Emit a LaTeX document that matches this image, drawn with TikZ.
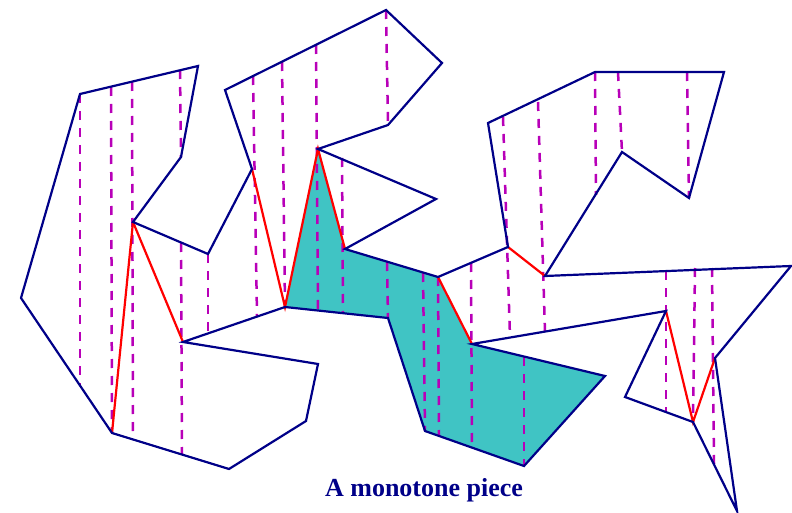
\documentclass[tikz,border=0pt]{standalone}
\usepackage{fontspec}
\setmainfont{Liberation Serif}
\definecolor{navyb}{RGB}{0,0,136}
\definecolor{tealf}{RGB}{64,196,196}
\definecolor{magd}{RGB}{184,0,184}
\tikzset{
  outline/.style={draw=navyb,line width=2.2pt,line join=miter},
  diag/.style={draw=red,line width=2.2pt},
  trap/.style={draw=magd,line width=2.5pt,dash pattern=on 9pt off 8pt},
  piece/.style={fill=tealf,draw=none}
}
\begin{document}
\begin{tikzpicture}[x=1pt,y=-1pt]
\useasboundingbox (0,0) rectangle (792,513);
% vertices
\coordinate (A) at (80,94);  \coordinate (B) at (198,66);  \coordinate (C) at (181,157);
\coordinate (D) at (133,222); \coordinate (E) at (208,254); \coordinate (F) at (252,169);
\coordinate (G) at (225,90);  \coordinate (H) at (386,10);  \coordinate (I) at (442,63);
\coordinate (J) at (388,125); \coordinate (K) at (318,149); \coordinate (L) at (436,199);
\coordinate (M) at (345,249); \coordinate (N) at (438,277); \coordinate (P) at (508,247);
\coordinate (P2) at (488,123); \coordinate (P3) at (595,72); \coordinate (P4) at (724,72);
\coordinate (P5) at (689,198); \coordinate (P6) at (622,152); \coordinate (Q) at (545,276);
\coordinate (Q2) at (791,266); \coordinate (Q3) at (715,358); \coordinate (Q4) at (737,511);
\coordinate (Q5) at (693,422); \coordinate (Q6) at (625,397); \coordinate (Q7) at (666,311);
\coordinate (R) at (472,344); \coordinate (S) at (605,376); \coordinate (T) at (524,466);
\coordinate (U) at (425,431); \coordinate (V) at (388,318); \coordinate (W) at (285,307);
\coordinate (X1) at (183,342); \coordinate (X2) at (318,364); \coordinate (X3) at (306,421);
\coordinate (X4) at (229,469); \coordinate (X5) at (112,433); \coordinate (X6) at (21,298);
% monotone piece
\path[piece] (W) -- (K) -- (M) -- (N) -- (R) -- (S) -- (T) -- (U) -- (V) -- cycle;
% trapezoidation lines
\draw[trap] (80,94) -- (80,385);
\draw[trap] (111,87) -- (112,433);
\draw[trap] (132,82) -- (133,440);
\draw[trap] (180,70) -- (181,157);
\draw[trap] (181,243) -- (182,454);
\draw[trap] (208,254) -- (208,333);
\draw[trap] (253,76) -- (257,316);
\draw[trap] (282,62) -- (285,307);
\draw[trap] (316,45) -- (318,310);
\draw[trap] (342,158) -- (343,313);
\draw[trap] (386,10) -- (388,125);
\draw[trap] (387,262) -- (388,318);
\draw[trap] (423,273) -- (425,431);
\draw[trap] (438,277) -- (439,436);
\draw[trap] (471,263) -- (472,447);
\draw[trap] (503,117) -- (510,337);
\draw[trap] (538,102) -- (545,332);
\draw[trap] (524,357) -- (524,466);
\draw[trap] (595,72) -- (596,195);
\draw[trap] (618,72) -- (622,152);
\draw[trap] (687,72) -- (689,198);
\draw[trap] (666,271) -- (666,412);
\draw[trap] (695,268) -- (693,422);
\draw[trap] (712,268) -- (714,464);
% diagonals
\draw[diag] (D) -- (X5);
\draw[diag] (D) -- (X1);
\draw[diag] (F) -- (W) -- (K) -- (M);
\draw[diag] (N) -- (R);
\draw[diag] (P) -- (Q);
\draw[diag] (Q7) -- (Q5) -- (Q3);
% polygon
\draw[outline] (A) -- (B) -- (C) -- (D) -- (E) -- (F) -- (G) -- (H) -- (I) -- (J)
  -- (K) -- (L) -- (M) -- (N) -- (P) -- (P2) -- (P3) -- (P4) -- (P5) -- (P6) -- (Q)
  -- (Q2) -- (Q3) -- (Q4) -- (Q5) -- (Q6) -- (Q7) -- (R) -- (S) -- (T) -- (U) -- (V)
  -- (W) -- (X1) -- (X2) -- (X3) -- (X4) -- (X5) -- (X6) -- cycle;
\node[anchor=base,text=navyb,font=\bfseries\fontsize{26}{30}\selectfont,inner sep=0pt] (lbl) at (424,496) {A monotone piece};
\end{tikzpicture}
\end{document}
